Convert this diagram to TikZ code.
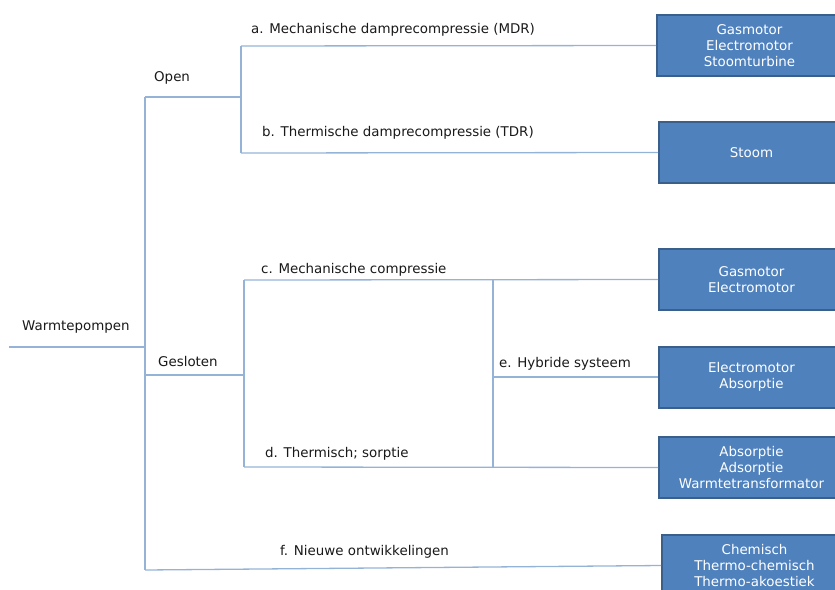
\documentclass[tikz,border=0pt]{standalone}
\usepackage{fontspec}
\setmainfont{DejaVu Sans}
\definecolor{lijn}{HTML}{95B3D7}
\definecolor{vak}{HTML}{4F81BD}
\definecolor{rand}{HTML}{3A5F8B}

\begin{document}
\begin{tikzpicture}[x=1pt, y=-1pt, font=\fontsize{13.4}{16}\selectfont]
    \useasboundingbox (0,0) rectangle (835,589);
    \clip (0,0) rectangle (835,589);

    \tikzset{vakje/.style = {draw=rand, line width=2pt, fill=vak, text=white, align=center, minimum width=185pt, minimum height=61pt, inner sep=0pt}}
    \tikzset{tak/.style = {draw=lijn, line width=1.3pt}}
    \tikzset{tekst/.style = {anchor=base west, inner sep=0pt, text=black!90}}

    % vakjes
    \node [vakje] (ngas) at (749.5,45.5) {Gasmotor\\Electromotor\\Stoomturbine};
    \node [vakje] (nstoom) at (751.5,152.5) {Stoom};
    \node [vakje] (nmech) at (751.5,279.5) {Gasmotor\\Electromotor};
    \node [vakje] (nhybride) at (751.5,377) {Electromotor\\Absorptie};
    \node [vakje] (nsorptie) at (751.5,467.5) {Absorptie\\Adsorptie\\Warmtetransformator};
    \node [vakje] (nnieuw) at (754.5,565.5) {Chemisch\\Thermo-chemisch\\Thermo-akoestiek};

    % knooppunten
    \coordinate (wortel) at (9,347);
    \coordinate (stam) at (145,347);
    \coordinate (stamboven) at (145,97);
    \coordinate (stamonder) at (145,570);
    \coordinate (open) at (242,97);
    \coordinate (openboven) at (241,46);
    \coordinate (openonder) at (241,153);
    \coordinate (gesloten) at (145,375);
    \coordinate (dicht) at (244,375);
    \coordinate (dichtboven) at (244,280);
    \coordinate (dichtonder) at (244,467);
    \coordinate (hybboven) at (493,280);
    \coordinate (hybonder) at (493,467);
    \coordinate (hyb) at (493,377);

    % lijnen
    \draw [tak] (wortel) -- (stam);
    \draw [tak] (stamboven) -- (stamonder);
    \draw [tak] (stamboven) -- (open);
    \draw [tak] (openboven) -- (openonder);
    \draw [tak] (openboven) -- (ngas.west);
    \draw [tak] (openonder) -- (nstoom.west);
    \draw [tak] (gesloten) -- (dicht);
    \draw [tak] (dichtboven) -- (dichtonder);
    \draw [tak] (dichtboven) -- (nmech.west);
    \draw [tak] (dichtonder) -- (nsorptie.west);
    \draw [tak] (hybboven) -- (hybonder);
    \draw [tak] (hyb) -- (nhybride.west);
    \draw [tak] (stamonder) -- (nnieuw.west);

    % teksten
    \node [tekst] (twarmte) at (22,330) {Warmtepompen};
    \node [tekst] (topen) at (154,81) {Open};
    \node [tekst] (tgesloten) at (158,366) {Gesloten};
    \node [tekst] (ta) at (251,33) {a. Mechanische damprecompressie (MDR)};
    \node [tekst] (tb) at (262,136) {b. Thermische damprecompressie (TDR)};
    \node [tekst] (tc) at (261,273) {c. Mechanische compressie};
    \node [tekst] (td) at (265,457) {d. Thermisch; sorptie};
    \node [tekst] (te) at (499,367) {e. Hybride systeem};
    \node [tekst] (tf) at (280,555) {f. Nieuwe ontwikkelingen};
\end{tikzpicture}
\end{document}
